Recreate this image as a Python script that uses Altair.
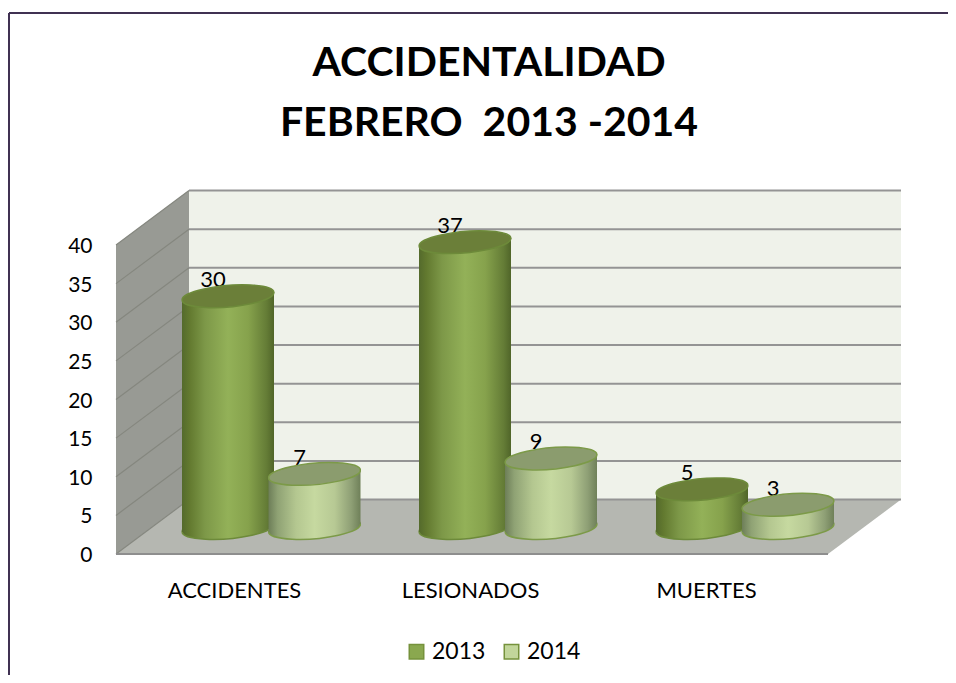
import altair as alt
import pandas as pd

# ---- chart values ----
categories = ["ACCIDENTES", "LESIONADOS", "MUERTES"]
series_names = ["2013", "2014"]
values_2013 = [30, 37, 5]
values_2014 = [7, 9, 3]
y_ticks = [0, 5, 10, 15, 20, 25, 30, 35, 40]
title_lines = ["ACCIDENTALIDAD", "FEBRERO \u00a02013 -2014"]

# ---- pseudo-3D geometry (x in page pixels, y in value units) ----
W, H = 940, 667
Y_DOMAIN = [-15.66, 70.68]
FRONT_L, FRONT_R = 116, 828
DEPTH_X, DEPTH_V = 73, 7.05      # wall depth
BASE_V = 3.37                    # bars stand half way into the floor
TOP_V = 40
TILT_V = 0.52                    # slope of the oblique ellipses
BAR_HALF = 46
CENTERS = {"2013": [228, 465, 702], "2014": [314.5, 551, 788]}
CAT_LABEL_X = [234.5, 470.5, 706.5]
CAT_LABEL_V = -4.8
LABEL_DX, LABEL_DV = -15, 2.1

ELLIPSE = "M-0.996,0.087 A1,0.228 -5 1 1 0.996,-0.087 A1,0.228 -5 1 1 -0.996,0.087 Z"
ELLIPSE_SIZE = (2 * BAR_HALF) ** 2


def grad(stops):
    return alt.LinearGradient(
        gradient="linear", x1=0, x2=1, y1=0, y2=0,
        stops=[alt.GradientStop(offset=o, color=c) for o, c in stops],
    )


GRAD = {
    "2013": grad([(0, "#546a2c"), (0.08, "#62792f"), (0.25, "#7d9848"), (0.5, "#93b158"),
                  (0.72, "#86a24c"), (0.92, "#647c36"), (1, "#506529")]),
    "2014": grad([(0, "#6d7e58"), (0.1, "#8fa274"), (0.3, "#b4c790"), (0.5, "#c6d9a0"),
                  (0.72, "#b7c994"), (0.9, "#8e9f75"), (1, "#6f8059")]),
}
TOP_FILL = {"2013": "#6b7f39", "2014": "#8b9c6e"}
STROKE = {"2013": "#6d8a3a", "2014": "#7c9a48"}
LEGEND_COLORS = ["#8aa84f", "#c2d69b"]

X = alt.Scale(domain=[8, 948])
Y = alt.Scale(domain=Y_DOMAIN)
xq = lambda f: alt.X(f, type="quantitative", scale=X, axis=None)
yq = lambda f: alt.Y(f, type="quantitative", scale=Y, axis=None)

# ---- walls and floor ----
back_df = pd.DataFrame({"x": [FRONT_L + DEPTH_X], "x2": [FRONT_R + DEPTH_X],
                        "y": [DEPTH_V], "y2": [TOP_V + DEPTH_V]})
back = alt.Chart(back_df).mark_rect(color="#eff2ea").encode(
    x=xq("x"), x2="x2",
    y=alt.Y("y:Q", scale=Y, axis=alt.Axis(
        values=y_ticks, title=None, domain=False, ticks=False, grid=False,
        labelFont="Lato", labelFontSize=21, labelColor="black", labelPadding=0,
        labelOffset=1.5, offset=-84)),
    y2="y2",
)

left_df = pd.DataFrame({"x": [FRONT_L, FRONT_L + DEPTH_X],
                        "y": [0, DEPTH_V], "y2": [TOP_V, TOP_V + DEPTH_V]})
left_wall = alt.Chart(left_df).mark_area(color="#989a94").encode(
    x=xq("x"), y=yq("y"), y2="y2")

floor_df = pd.DataFrame({"y": [0, DEPTH_V], "x": [FRONT_L, FRONT_L + DEPTH_X],
                         "x2": [FRONT_R, FRONT_R + DEPTH_X]})
floor = alt.Chart(floor_df).mark_area(color="#b5b7b1", orient="horizontal").encode(
    y=yq("y"), x=xq("x"), x2="x2")

grid_back_df = pd.DataFrame({"y": [t + DEPTH_V for t in y_ticks],
                             "x": FRONT_L + DEPTH_X, "x2": FRONT_R + DEPTH_X})
grid_back = alt.Chart(grid_back_df).mark_rule(color="#949494", strokeWidth=2).encode(
    x=xq("x"), x2="x2", y=yq("y"))

grid_left_df = pd.DataFrame(
    [{"t": t, "x": FRONT_L, "y": t} for t in y_ticks]
    + [{"t": t, "x": FRONT_L + DEPTH_X, "y": t + DEPTH_V} for t in y_ticks]
)
grid_left = alt.Chart(grid_left_df).mark_line(color="#85877f", strokeWidth=1.2).encode(
    x=xq("x"), y=yq("y"), detail="t:N")

front_edge = alt.Chart(pd.DataFrame({"x": [FRONT_L], "x2": [FRONT_R], "y": [0]})).mark_rule(
    color="#8e8e8e", strokeWidth=2).encode(x=xq("x"), x2="x2", y=yq("y"))

# ---- value labels (behind the cylinders, as in the original) ----
lab_rows = []
for name, vals in zip(series_names, [values_2013, values_2014]):
    for cx, v in zip(CENTERS[name], vals):
        lab_rows.append({"x": cx + LABEL_DX, "y": v + BASE_V + LABEL_DV, "t": str(v)})
value_labels = alt.Chart(pd.DataFrame(lab_rows)).mark_text(
    font="Lato", fontSize=22, color="black", baseline="middle").encode(
    x=xq("x"), y=yq("y"), text="t:N")


# ---- cylinders ----
def cylinders(name, vals):
    pts, bodies = [], []
    for i, (cx, v) in enumerate(zip(CENTERS[name], vals)):
        pts.append({"x": cx, "top": v + BASE_V, "base": BASE_V})
        bodies.append({"k": i, "x": cx - BAR_HALF, "y": v + BASE_V - TILT_V, "y2": BASE_V - TILT_V})
        bodies.append({"k": i, "x": cx + BAR_HALF, "y": v + BASE_V + TILT_V, "y2": BASE_V + TILT_V})
    pts = pd.DataFrame(pts)
    bottom = alt.Chart(pts).mark_point(
        shape=ELLIPSE, size=ELLIPSE_SIZE, filled=True, fill=GRAD[name], opacity=1,
        stroke=STROKE[name], strokeWidth=1.5).encode(x=xq("x"), y=yq("base"))
    body = alt.Chart(pd.DataFrame(bodies)).mark_area(fill=GRAD[name]).encode(
        x=xq("x"), y=yq("y"), y2="y2", detail="k:N")
    top = alt.Chart(pts).mark_point(
        shape=ELLIPSE, size=ELLIPSE_SIZE, filled=True, fill=TOP_FILL[name], opacity=1,
        stroke=STROKE[name], strokeWidth=1.5).encode(x=xq("x"), y=yq("top"))
    return [bottom, body, top]


# ---- category labels ----
cat_df = pd.DataFrame({"x": CAT_LABEL_X, "y": CAT_LABEL_V, "t": categories})
cat_labels = alt.Chart(cat_df).mark_text(
    font="Lato", fontSize=22, color="black", baseline="middle").encode(
    x=xq("x"), y=yq("y"), text="t:N")

# ---- legend (carried by a zero-size layer) ----
leg_df = pd.DataFrame({"s": series_names, "x": 300, "y": 0})
legend_layer = alt.Chart(leg_df).mark_square(size=0).encode(
    x=xq("x"), y=yq("y"),
    color=alt.Color("s:N", scale=alt.Scale(domain=series_names, range=LEGEND_COLORS),
                    legend=alt.Legend(
                        orient="none", legendX=397, legendY=632, direction="horizontal",
                        title=None, symbolType="square", symbolSize=210, symbolOpacity=1,
                        symbolStrokeColor="#76923c", symbolStrokeWidth=1.5, labelFont="Lato",
                        labelFontSize=23, labelColor="black", columnPadding=14,
                        labelOffset=4)),
)

# ---- frame ----
frame_top = alt.Chart(pd.DataFrame({"a": [0]})).mark_rule(color="#403152", strokeWidth=2).encode(
    x=alt.value(1), x2=alt.value(W), y=alt.value(5))
frame_left = alt.Chart(pd.DataFrame({"a": [0]})).mark_rule(color="#403152", strokeWidth=2).encode(
    x=alt.value(1), y=alt.value(5), y2=alt.value(H))

chart = alt.layer(
    back, left_wall, floor, grid_back, grid_left, front_edge, value_labels,
    *cylinders("2013", values_2013), *cylinders("2014", values_2014),
    cat_labels, legend_layer, frame_top, frame_left,
).resolve_axis(y="independent").properties(
    width=W, height=H, padding=0,
    autosize=alt.AutoSizeParams(type="none"),
    background="white",
    title=alt.TitleParams(
        text=title_lines, font="Lato", fontWeight="bold", fontSize=41, lineHeight=60,
        color="black", anchor="middle", dx=11, dy=107, baseline="top", offset=-30),
).configure_view(stroke=None)

chart.save("out.html", embed_options={"renderer": "svg", "actions": False})
